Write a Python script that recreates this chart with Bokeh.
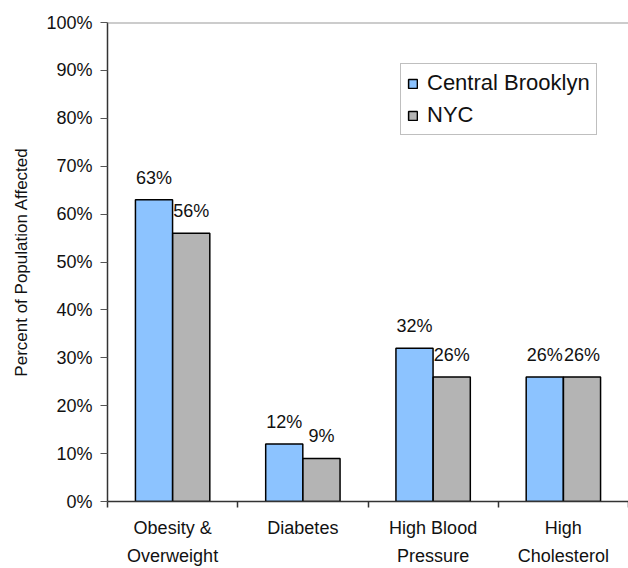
from bokeh.plotting import figure
from bokeh.models import (ColumnDataSource, Range1d, FixedTicker,
                          PrintfTickFormatter, Legend, LegendItem, LabelSet, Span)
from bokeh.core.properties import value
from bokeh.transform import dodge
from bokeh.embed import file_html
from bokeh.resources import INLINE

# ---- data ----
categories = ["Obesity & Overweight", "Diabetes", "High Blood Pressure", "High Cholesterol"]
category_labels = ["Obesity &\nOverweight", "Diabetes", "High Blood\nPressure", "High\nCholesterol"]
central_brooklyn = [63, 12, 32, 26]
nyc = [56, 9, 26, 26]
series_names = ["Central Brooklyn", "NYC"]
y_ticks = [0, 10, 20, 30, 40, 50, 60, 70, 80, 90, 100]

FONT = "Liberation Sans"
BLUE = "#8CC3FF"
GRAY = "#B4B4B4"

n = len(categories)
centers = [i + 0.5 for i in range(n)]          # category slot centres
boundaries = list(range(n + 1))                 # category slot edges

src = ColumnDataSource(dict(
    category=categories,
    center=centers,
    cb=central_brooklyn,
    nyc=nyc,
    cb_lbl=[f"{v}%" for v in central_brooklyn],
    nyc_lbl=[f"{v}%" for v in nyc],
))

p = figure(width=628, height=568, output_backend="svg", toolbar_location=None,
           x_range=Range1d(0, n), y_range=Range1d(0, 100),
           min_border_left=107, min_border_top=22, min_border_bottom=66, min_border_right=0)
p.outline_line_color = None
p.xgrid.grid_line_color = None
p.ygrid.grid_line_color = None
p.background_fill_color = "white"
p.border_fill_color = "white"

# x axis: labels at slot centres, ticks at slot edges
xa = p.xaxis[0]
xa.ticker = FixedTicker(ticks=centers, minor_ticks=boundaries)
xa.major_label_overrides = {c: lbl for c, lbl in zip(centers, category_labels)}
xa.major_tick_line_color = None
xa.major_tick_out = 6
xa.major_tick_in = 0
xa.minor_tick_out = 6
xa.minor_tick_in = 0
xa.minor_tick_line_color = "#333333"
xa.minor_tick_line_width = 1.5
xa.axis_line_color = "#333333"
xa.axis_line_width = 1.5
xa.major_label_text_font = FONT
xa.major_label_text_font_size = "18px"
xa.major_label_text_color = "#111111"
xa.major_label_text_line_height = 1.4
xa.major_label_standoff = 10

# y axis
ya = p.yaxis[0]
ya.ticker = FixedTicker(ticks=y_ticks)
ya.formatter = PrintfTickFormatter(format="%d%%")
ya.minor_tick_line_color = None
ya.major_tick_out = 7
ya.major_tick_in = 0
ya.major_tick_line_color = "#555555"
ya.major_tick_line_width = 1
ya.axis_line_color = "#333333"
ya.axis_line_width = 1.5
ya.major_label_text_font = FONT
ya.major_label_text_font_size = "18px"
ya.major_label_text_color = "#111111"
ya.major_label_standoff = 8
ya.axis_label = "Percent of Population Affected"
ya.axis_label_text_font = FONT
ya.axis_label_text_font_size = "17px"
ya.axis_label_text_font_style = "normal"
ya.axis_label_text_color = "#111111"
ya.axis_label_standoff = 12

# top frame line
p.add_layout(Span(location=100, dimension="width", line_color="#999999", line_width=2))

# bars
r1 = p.vbar(x=dodge("center", -0.143), top="cb", width=0.285, source=src,
            fill_color=BLUE, line_color="black", line_width=1.5)
r2 = p.vbar(x=dodge("center", 0.143), top="nyc", width=0.285, source=src,
            fill_color=GRAY, line_color="black", line_width=1.5)

# value labels
for xoff, col, ycol in [(-0.143, "cb_lbl", "cb"), (0.143, "nyc_lbl", "nyc")]:
    p.add_layout(LabelSet(x=dodge("center", xoff), y=ycol, text=col,
                          source=src, y_offset=16, text_align="center",
                          text_baseline="alphabetic", text_font=value(FONT),
                          text_font_size=value("18px"), text_color="#111111"))

legend = Legend(items=[LegendItem(label=series_names[0], renderers=[r1]),
                       LegendItem(label=series_names[1], renderers=[r2])],
                location=(293, 366))
legend.label_text_font = FONT
legend.label_text_font_size = "22px"
legend.label_text_color = "#111111"
legend.label_height = 26
legend.label_standoff = 9
legend.glyph_width = 11
legend.glyph_height = 11
legend.padding = 6
legend.spacing = 6
legend.margin = 0
legend.border_line_color = "#808080"
legend.border_line_width = 1.5
legend.background_fill_color = "white"
legend.background_fill_alpha = 1
p.add_layout(legend)

open("out.html", "w").write(file_html(p, INLINE))
